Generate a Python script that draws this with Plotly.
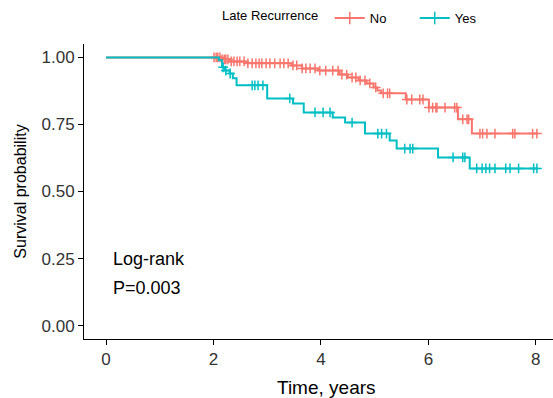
import plotly.graph_objects as go
import numpy as np

# Step curves: event times and survival after each event
no_time = [0, 2.15, 2.30, 2.60, 3.45, 3.65, 3.95, 4.35, 4.50, 4.70, 4.85, 4.98, 5.05, 5.12, 5.58, 6.01, 6.55, 6.81, 8.04]
no_surv = [1.0, 0.993, 0.985, 0.978, 0.970, 0.959, 0.951, 0.936, 0.925, 0.914, 0.903, 0.888, 0.877, 0.866, 0.843, 0.813, 0.769, 0.716, 0.716]
no_cens = [2.01, 2.05, 2.08, 2.12, 2.16, 2.20, 2.23, 2.27, 2.33, 2.38, 2.44, 2.49, 2.57, 2.64, 2.72, 2.79,
           2.85, 2.90, 2.98, 3.05, 3.14, 3.24, 3.31, 3.39, 3.48, 3.55, 3.65, 3.72, 3.80, 3.89, 3.98, 4.09,
           4.22, 4.32, 4.39, 4.48, 4.58, 4.65, 4.73, 4.82, 4.91, 5.02, 5.16, 5.24, 5.28, 5.60, 5.69, 5.84,
           5.90, 6.01, 6.08, 6.14, 6.16, 6.31, 6.49, 6.53, 6.64, 6.72, 6.75, 6.96, 7.01, 7.09, 7.24, 7.57,
           7.61, 7.94, 8.02]

yes_time = [0, 2.10, 2.16, 2.21, 2.30, 2.36, 2.43, 3.00, 3.48, 3.68, 4.22, 4.45, 4.82, 5.28, 5.41, 6.18, 6.77, 8.04]
yes_surv = [1.0, 0.989, 0.963, 0.951, 0.940, 0.922, 0.896, 0.847, 0.828, 0.795, 0.776, 0.757, 0.716, 0.690, 0.660, 0.627, 0.586, 0.586]
yes_cens = [2.18, 2.23, 2.31, 2.72, 2.77, 2.83, 2.92, 3.42, 3.89, 4.04, 4.17, 4.58, 5.06, 5.13, 5.22,
            5.56, 5.66, 5.71, 6.46, 6.64, 6.68, 6.90, 7.00, 7.07, 7.14, 7.24, 7.44, 7.52, 7.68, 7.96, 8.02]

x_ticks = [0, 2, 4, 6, 8]
y_ticks = [0.0, 0.25, 0.5, 0.75, 1.0]
y_tick_labels = ["0.00", "0.25", "0.50", "0.75", "1.00"]

RED = "#F8766D"
TEAL = "#00BFC4"
FONT = "Liberation Sans"


def surv_at(times, survs, t):
    idx = np.searchsorted(np.array(times), t, side="right") - 1
    return survs[max(idx, 0)]


fig = go.Figure()
for name, times, survs, cens, col in [("No", no_time, no_surv, no_cens, RED),
                                       ("Yes", yes_time, yes_surv, yes_cens, TEAL)]:
    fig.add_trace(go.Scatter(x=times, y=survs, mode="lines", line=dict(color=col, width=2, shape="hv"),
                             name=name, showlegend=False, hoverinfo="skip"))
    fig.add_trace(go.Scatter(x=cens, y=[surv_at(times, survs, t) for t in cens], mode="markers",
                             marker=dict(symbol="cross-thin", size=7, line=dict(color=col, width=1.5), color=col),
                             name=name, showlegend=False))
    # legend entry
    fig.add_trace(go.Scatter(x=[None], y=[None], mode="lines+markers", name=name,
                             line=dict(color=col, width=2),
                             marker=dict(symbol="cross-thin", size=9, line=dict(color=col, width=1.5))))

fig.add_annotation(x=0.1, y=0.25, text="Log-rank", showarrow=False, xanchor="left", yanchor="middle",
                   font=dict(size=18, color="black", family=FONT))
fig.add_annotation(x=0.1, y=0.14, text="P=0.003", showarrow=False, xanchor="left", yanchor="middle",
                   font=dict(size=18, color="black", family=FONT))
# x-axis title (ggplot panel extends slightly beyond the cropped image edge)
fig.add_annotation(xref="paper", yref="paper", x=0.518, y=-0.166, text="Time, years", showarrow=False,
                   xanchor="center", yanchor="middle", font=dict(size=19, color="black", family=FONT))

fig.update_layout(
    width=553, height=398,
    margin=dict(l=84, r=0, t=44, b=59),
    plot_bgcolor="white", paper_bgcolor="white",
    font=dict(family=FONT, color="black"),
    showlegend=True,
    legend=dict(orientation="h", x=0.29, xanchor="left", y=1.088, yanchor="middle",
                title=dict(text="Late Recurrence ", font=dict(size=13), side="left"),
                font=dict(size=13), itemwidth=30, entrywidth=40, tracegroupgap=0,
                bgcolor="rgba(0,0,0,0)"),
    xaxis=dict(range=[-0.41, 8.32], tickvals=x_ticks, showgrid=False, zeroline=False,
               showline=True, linecolor="black", linewidth=1, ticks="outside", ticklen=5,
               tickcolor="black", tickfont=dict(size=17, color="#333333")),
    yaxis=dict(range=[-0.05, 1.05], tickvals=y_ticks, ticktext=y_tick_labels, showgrid=False,
               zeroline=False, showline=True, linecolor="black", linewidth=1, ticks="outside",
               ticklen=5, tickcolor="black", tickfont=dict(size=17, color="#333333"),
               title=dict(text="Survival probability", font=dict(size=16), standoff=10)),
)

fig.write_html("out.html")
